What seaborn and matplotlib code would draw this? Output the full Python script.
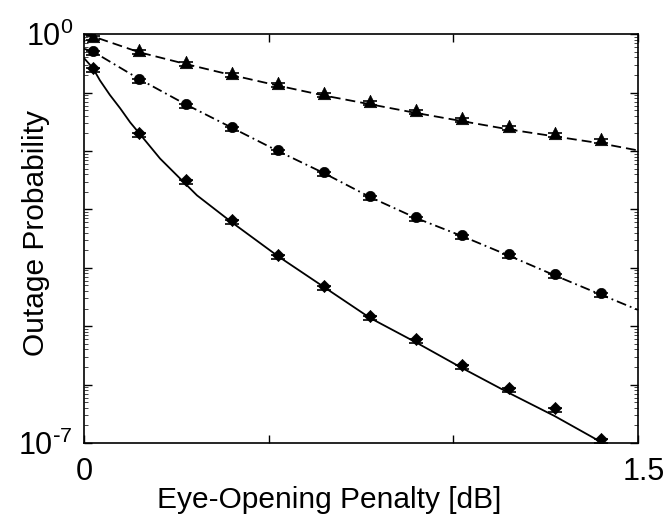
import numpy as np
import pandas as pd
import matplotlib
matplotlib.use("Agg")
import matplotlib.pyplot as plt
import matplotlib.transforms as mtransforms
import seaborn as sns
from matplotlib.ticker import LogLocator, FixedLocator, NullFormatter

sns.set_theme(style="ticks")
plt.rcParams['font.family'] = ['Liberation Sans', 'DejaVu Sans']

# --- data (log10 of outage probability) ---
x_marks = [0.025, 0.15, 0.275, 0.4, 0.525, 0.65, 0.775, 0.9, 1.025, 1.15, 1.275, 1.4]
tri_marks = [-0.03, -0.27, -0.48, -0.66, -0.83, -1.00, -1.15, -1.29, -1.43, -1.57, -1.69, -1.80]
circ_marks = [-0.29, -0.76, -1.19, -1.59, -1.99, -2.36, -2.77, -3.13, -3.43, -3.76, -4.10, -4.43]
diam_marks = [-0.58, -1.69, -2.50, -3.18, -3.78, -4.31, -4.83, -5.22, -5.66, -6.05, -6.40, -6.93]

x_dash = [0.0, 0.025, 0.15, 0.275, 0.4, 0.525, 0.65, 0.775, 0.9, 1.025, 1.15, 1.275, 1.4, 1.5]
y_dash = [0.0, -0.04, -0.31, -0.51, -0.70, -0.88, -1.05, -1.20, -1.35, -1.49, -1.63, -1.75, -1.87, -1.99]

x_dashdot = [0.0, 0.025, 0.15, 0.275, 0.4, 0.525, 0.65, 0.775, 0.9, 1.025, 1.15, 1.275, 1.4, 1.5]
y_dashdot = [-0.25, -0.30, -0.77, -1.20, -1.60, -2.00, -2.38, -2.79, -3.15, -3.46, -3.79, -4.13, -4.46, -4.72]

x_solid = [0.0, 0.024, 0.043, 0.07, 0.098, 0.125, 0.15, 0.206, 0.26, 0.306, 0.4, 0.525,
           0.65, 0.775, 0.9, 1.025, 1.15, 1.275, 1.405]
y_solid = [-0.41, -0.58, -0.79, -1.04, -1.27, -1.51, -1.70, -2.13, -2.47, -2.76, -3.22, -3.80,
           -4.33, -4.86, -5.28, -5.72, -6.14, -6.54, -7.0]

err_dec = 0.07  # lower error bar length in decades

fig = plt.figure(figsize=(6.70, 5.18), dpi=100)
ax = fig.add_axes([0.1254, 0.1448, 0.8266, 0.7892])

lines = [
    (x_dash, y_dash, (0, (5.5, 2.8))),
    (x_dashdot, y_dashdot, (0, (5.5, 2.2, 1.0, 2.2))),
    (x_solid, y_solid, '-'),
]
for xs, ys, ls in lines:
    df = pd.DataFrame({'x': xs, 'y': 10.0 ** np.array(ys)})
    sns.lineplot(data=df, x='x', y='y', ax=ax, color='black', lw=1.3,
                 linestyle=ls, sort=False, estimator=None)

marks = [(tri_marks, '^', 80), (circ_marks, 'o', 55), (diam_marks, 'D', 38)]
for ys, m, s in marks:
    yv = 10.0 ** np.array(ys)
    lower = yv - 10.0 ** (np.array(ys) - err_dec)
    ax.errorbar(x_marks, yv, yerr=[lower, np.zeros_like(yv)], fmt='none',
                ecolor='black', elinewidth=1.0, capsize=5, capthick=1.2)
    df = pd.DataFrame({'x': x_marks, 'y': yv})
    sns.scatterplot(data=df, x='x', y='y', ax=ax, marker=m, s=s, color='black',
                    edgecolor='black', linewidth=0.5, zorder=5)

ax.set_yscale('log')
ax.set_xlim(0, 1.5)
ax.set_ylim(1e-7, 1e0)

ax.xaxis.set_major_locator(FixedLocator([0, 0.5, 1.0, 1.5]))
ax.set_xticklabels(['0', '', '', '1.5'])
ax.yaxis.set_major_locator(FixedLocator([10.0 ** k for k in range(-7, 1)]))
ax.set_yticklabels([r'$\mathregular{10^{\text{-}7}}$', '', '', '', '', '', '',
                    r'$\mathregular{10^{0}}$'])
ax.yaxis.set_minor_locator(LogLocator(base=10, subs=np.arange(2, 10), numticks=20))
ax.yaxis.set_minor_formatter(NullFormatter())

ax.tick_params(axis='both', which='major', direction='in', length=6, width=1.0,
               top=True, right=True, labelsize=22, colors='black')
ax.tick_params(axis='x', which='major', pad=10)
ax.tick_params(axis='y', which='major', pad=8)
ax.tick_params(axis='y', which='minor', direction='in', length=3, width=0.6,
               left=True, right=True)
for sp in ax.spines.values():
    sp.set_color('black')
    sp.set_linewidth(1.2)

# nudge the "1.5" label slightly right, as in the reference
last = ax.get_xticklabels()[-1]
last.set_transform(last.get_transform() +
                   mtransforms.ScaledTranslation(6 / 100, 0, fig.dpi_scale_trans))

ax.set_xlabel('Eye-Opening Penalty [dB]', fontsize=21.5, color='black')
ax.set_ylabel('Outage Probability', fontsize=21.5, color='black')
ax.xaxis.set_label_coords((329 - 84) / 554, -(500 - 443) / 409)
ax.yaxis.set_label_coords(-(84 - 36) / 554, (443 - 233) / 409)
ax.xaxis.label.set_va('center')
ax.yaxis.label.set_va('center')

fig.savefig('out.png', dpi=100, facecolor='white')
